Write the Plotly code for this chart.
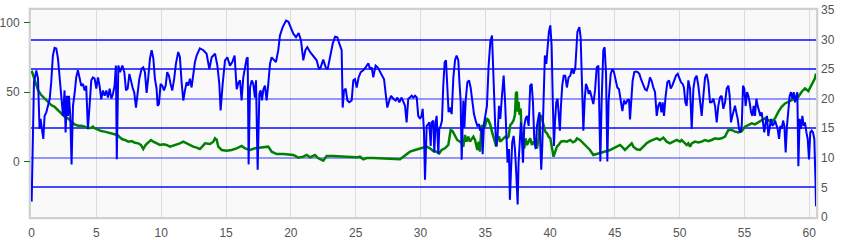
import plotly.graph_objects as go

# ---- data -------------------------------------------------------------
blue_x = [0.0, 0.18, 0.36, 0.49, 0.61, 0.69, 0.79, 0.9, 1.0, 1.13, 1.26, 1.39, 1.51, 1.64, 1.77, 1.9,
          2.03, 2.16, 2.29, 2.42, 2.54, 2.62, 2.72, 2.8, 2.88, 2.98, 3.08, 3.19, 3.31, 3.44, 3.57, 3.7,
          3.83, 3.96, 4.09, 4.21, 4.34, 4.47, 4.6, 4.73, 4.86, 4.99, 5.12, 5.24, 5.37, 5.5, 5.63, 5.76,
          5.89, 6.02, 6.15, 6.27, 6.4,
          6.5, 6.57, 6.69, 6.82, 7.0, 7.15, 7.28, 7.41, 7.54, 7.66, 7.79, 7.92, 8.05, 8.18, 8.31, 8.49,
          8.61, 8.74, 8.87, 9.0, 9.13, 9.26, 9.39, 9.51, 9.64, 9.72, 9.82, 9.95, 10.08, 10.21, 10.34,
          10.46, 10.59, 10.72, 10.85, 11.0, 11.13, 11.31, 11.44, 11.57, 11.7, 11.83, 11.96, 12.08, 12.21,
          12.34, 12.47, 12.6, 12.73, 12.98,
          13.25, 13.5, 13.71, 13.89, 14.15, 14.33, 14.48, 14.58, 14.74, 14.92, 15.1, 15.3, 15.48, 15.66,
          15.82, 15.97, 16.08, 16.2, 16.33, 16.46, 16.59, 16.67, 16.74, 16.85, 16.98, 17.1, 17.23, 17.31,
          17.44, 17.57, 17.67, 17.77, 17.88, 18.0, 18.13, 18.26, 18.39, 18.52, 18.7, 18.85, 19.03, 19.16,
          19.37, 19.63, 19.81, 19.99, 20.19, 20.4, 20.6, 20.78, 20.96, 21.12, 21.27, 21.48, 21.73, 21.99,
          22.17, 22.3, 22.5, 22.69, 22.84, 23.02, 23.23, 23.41, 23.59, 23.74, 23.92, 24.0, 24.1, 24.23,
          24.36, 24.51, 24.69, 24.82, 24.95, 25.08, 25.23, 25.39, 25.59, 25.77, 25.98, 26.11, 26.24,
          26.36, 26.54, 26.7, 26.88, 27.01, 27.19, 27.32, 27.44, 27.6, 27.73, 27.91, 28.09, 28.22, 28.37,
          28.55, 28.68, 28.81, 28.93, 29.06, 29.19, 29.32, 29.45, 29.58, 29.71, 29.83, 29.96, 30.09,
          30.17, 30.27, 30.35, 30.48, 30.6, 30.68, 30.79, 30.86, 30.99, 31.07, 31.17, 31.25, 31.38,
          31.45, 31.56, 31.66, 31.76, 31.87, 31.97, 32.07, 32.17,
          32.28, 32.41, 32.54, 32.67, 32.79, 32.92, 33.0, 33.1, 33.18, 33.31, 33.39, 33.49, 33.62, 33.75,
          33.87, 34.0, 34.13, 34.26, 34.39, 34.52, 34.6, 34.72, 34.8, 34.9, 35.03,
          35.13, 35.26, 35.39, 35.52, 35.59, 35.7, 35.77, 35.85, 35.95, 36.06, 36.16, 36.29, 36.42,
          36.52, 36.62, 36.72, 36.83, 36.9, 36.98, 37.08, 37.19, 37.29, 37.39, 37.5, 37.57, 37.65,
          37.75, 37.83, 37.91, 38.01, 38.11, 38.22, 38.35, 38.47, 38.58, 38.68, 38.78, 38.89, 38.99,
          39.12, 39.19, 39.25, 39.32, 39.4, 39.5, 39.6, 39.71, 39.81, 39.91, 40.02, 40.12, 40.22, 40.3,
          40.38, 40.48, 40.58, 40.69, 40.76, 40.84, 40.94, 41.05, 41.17, 41.3, 41.43, 41.56, 41.69,
          41.82, 41.95,
          42.11, 42.26, 42.36, 42.47, 42.57, 42.67, 42.77, 42.88, 42.98, 43.08, 43.21, 43.34, 43.47,
          43.6, 43.73, 43.8, 43.88, 43.98, 44.11, 44.21, 44.32, 44.42, 44.52, 44.68, 44.81, 44.93,
          45.06, 45.19, 45.32, 45.45, 45.58, 45.71, 45.83, 45.96, 46.09, 46.17, 46.27, 46.37, 46.5,
          46.63, 46.76, 46.89, 47.02, 47.15, 47.33, 47.46,
          47.58, 47.71, 47.84, 47.97, 48.1, 48.23, 48.35, 48.48, 48.59, 48.69, 48.79, 48.92, 49.05,
          49.18, 49.31, 49.43, 49.56, 49.72, 49.85, 49.97, 50.1, 50.23, 50.33, 50.44, 50.54, 50.67,
          50.8, 50.93, 51.06, 51.18, 51.31, 51.44, 51.57, 51.7, 51.83, 51.96, 52.08, 52.21, 52.34,
          52.47, 52.6, 52.73, 52.86, 52.98, 53.11, 53.24, 53.37, 53.5, 53.63, 53.76,
          53.86, 53.96, 54.07, 54.17, 54.27, 54.37, 54.48, 54.58, 54.68, 54.79, 54.89, 54.99, 55.09,
          55.2, 55.3, 55.4, 55.51, 55.61, 55.71, 55.81, 55.92, 56.02, 56.12, 56.23, 56.33, 56.43,
          56.53, 56.64, 56.74, 56.84, 56.95, 57.05, 57.15, 57.26, 57.36, 57.46, 57.56, 57.67, 57.77,
          57.87, 57.98, 58.08, 58.18, 58.28, 58.39, 58.49, 58.59, 58.7, 58.8, 58.9, 59.0, 59.08, 59.16,
          59.26, 59.36, 59.47, 59.57, 59.67, 59.78, 59.88, 59.98, 60.08, 60.19, 60.29, 60.39, 60.44,
          60.48, 60.52]
blue_y = [2.6, 22.8, 24.8, 23.4, 14.9, 16.6, 14.9, 13.2, 17.1, 17.7, 18.8, 19.9, 22.8, 27.3, 28.6, 28.5,
          26.8, 23.9, 19.9, 17.1, 21.4, 14.3, 20.5, 17.1, 20.5, 17.1, 8.9, 18.8, 20.8, 23.6, 24.8, 23.6,
          22.2, 22.5, 21.4, 22.2, 14.9, 18.8, 23.1, 23.6, 23.4, 21.7, 23.6, 22.2, 19.9, 21.4, 20.5, 21.4,
          20.2, 21.7, 20.0, 20.8, 22.2,
          25.6, 9.75, 25.6, 24.5, 25.6, 24.5, 21.4, 21.7, 24.2, 22.8, 21.9, 21.0, 18.5, 21.0, 23.4, 25.1,
          25.3, 24.5, 21.0, 23.6, 26.8, 28.2, 26.8, 23.4, 21.7, 18.8, 19.1, 22.5, 22.2, 21.4, 22.2,
          24.5, 23.9, 22.5, 21.4, 23.4, 25.9, 27.9, 27.0, 22.8, 19.7, 21.4, 22.8, 22.2, 23.4,
          21.9, 24.5, 26.2, 27.3, 28.5,
          28.2, 27.6, 25.0, 27.0, 27.6, 25.6, 22.5, 18.0, 22.5, 26.5, 27.0, 25.6, 26.2, 27.3,
          21.6, 22.8, 23.1, 19.7, 23.6, 25.3, 26.8, 27.0, 8.9, 21.9, 23.1, 22.5, 20.2, 23.1,
          8.0, 20.8, 21.4, 19.7, 21.6, 22.2, 19.7, 22.5, 25.9, 27.0, 26.5, 26.2, 28.2, 30.7,
          32.1, 33.2, 33.0, 32.1, 31.0, 30.4, 31.1, 29.9, 26.5, 28.2, 28.7, 27.9, 27.3, 26.5,
          25.0, 25.3, 26.6, 25.3, 25.0, 26.9, 29.3, 30.5, 30.4, 29.3, 28.2, 18.5, 21.4, 21.7,
          19.7, 19.4, 19.7, 23.1, 23.3, 21.9, 23.6, 24.5, 24.8, 25.3, 26.0, 25.0, 25.3,
          23.6, 25.6, 25.3, 24.5, 23.9, 23.3, 20.8, 18.5, 19.7, 20.5, 20.0, 19.7, 20.2, 19.4,
          20.2, 19.4, 18.8, 16.0, 20.0, 20.2, 20.5, 20.2, 20.5, 20.2, 17.1, 16.6, 17.1,
          18.3, 14.6, 6.3, 15.4, 15.7, 16.0, 12.0, 16.0, 16.3, 10.9, 16.0, 17.1, 10.6,
          14.9, 15.4, 16.3, 22.2, 26.2, 26.5, 20.5, 17.7,
          18.5, 17.4, 23.6, 26.5, 27.3, 26.5, 23.1, 19.7, 9.7, 19.7, 15.1, 19.7, 22.8, 23.1,
          21.9, 19.7, 17.4, 16.3, 15.4, 15.7, 14.6, 15.1, 10.6, 15.7, 17.4,
          18.8, 25.6, 29.6, 30.7, 25.6, 18.8, 15.4, 12.0, 13.7, 18.8, 16.6, 20.5, 23.9,
          20.0, 13.7, 9.2, 11.5, 2.9, 7.5, 12.6, 13.7, 11.5, 7.5, 2.1, 9.2, 12.0,
          16.0, 13.2, 9.2, 15.4, 16.6, 17.1, 15.4, 22.2, 22.5, 19.4, 13.2, 11.5, 15.4,
          17.1, 17.7, 12.0, 8.0, 12.0, 18.8, 27.3, 25.9, 28.5, 31.3, 32.4, 29.0, 18.8, 12.0,
          16.0, 19.4, 20.0, 16.0, 14.6, 18.8, 22.2, 23.9, 23.9, 21.9, 23.6, 23.9, 25.1,
          24.2, 25.3,
          31.3, 32.1, 30.4, 20.8, 14.6, 19.7, 22.5, 21.9, 20.8, 21.4, 20.2, 19.1, 21.4,
          25.3, 25.6, 19.7, 9.4, 19.7, 28.2, 28.7, 24.2, 9.4, 19.7, 24.2, 25.0, 24.5,
          23.0, 21.9, 21.6, 19.7, 17.9, 19.7, 19.1, 19.7, 19.9, 16.5, 20.2, 23.0, 24.5,
          24.6, 24.5, 24.2, 23.3, 22.5, 21.6, 21.4,
          22.2, 23.6, 23.0, 21.9, 21.1, 17.1, 18.8, 19.4, 17.7, 19.4, 17.1, 20.5, 22.8,
          23.1, 21.7, 22.2, 23.1, 23.9, 24.2, 23.6, 22.8, 22.5, 21.9, 19.4, 18.8, 23.1,
          21.7, 14.9, 21.7, 23.4, 23.9, 22.2, 19.4, 17.1, 20.5, 23.6, 24.2, 22.8, 19.4,
          19.4, 20.0, 18.8, 16.0, 18.8, 20.2, 20.5, 18.3, 19.4, 21.7, 22.2,
          20.5, 16.0, 17.1, 18.3, 18.8, 17.7, 16.6, 14.9, 14.3, 15.4, 22.2, 21.7, 18.8,
          21.1, 20.5, 19.4, 17.7, 17.1, 18.8, 17.1, 20.0, 18.8, 17.7, 17.1, 17.7, 16.0,
          14.3, 16.0, 17.1, 13.7, 14.9, 16.6, 15.4, 15.7, 16.3, 15.4, 14.9, 13.2, 15.4,
          14.9, 16.3, 15.4, 10.9, 15.4, 18.8, 20.5, 21.1, 20.0, 21.1, 19.4, 20.5, 21.1, 8.6,
          16.6, 14.9, 17.1, 15.4, 16.0, 14.3, 13.2, 9.75, 14.3, 14.6, 14.3, 13.2, 10.3,
          6.3, 1.8]

green_x = [0.0, 0.23, 0.49, 0.74, 1.0, 1.26, 1.51, 1.77, 2.03, 2.29, 2.54, 2.8, 3.06, 3.31, 3.57, 3.83,
           4.09, 4.34, 4.6, 4.73, 4.86, 5.12, 5.37, 5.63, 5.89, 6.15, 6.4, 6.61, 6.8, 7.0, 7.2, 7.46,
           7.72, 7.97, 8.23, 8.43, 8.61, 8.79, 9.0, 9.21, 9.39, 9.64, 9.9, 10.16, 10.41, 10.67, 10.93,
           11.18, 11.44, 11.7, 11.96, 12.21, 12.47, 12.73, 12.98, 13.16, 13.38, 13.76, 14.02, 14.15,
           14.28, 14.4, 14.66, 15.05, 15.43, 15.82, 16.2, 16.46, 16.85, 17.23, 17.62, 18.0, 18.26,
           18.52, 18.91, 19.42, 19.81, 20.19, 20.58, 20.96, 21.22, 21.48, 21.86, 22.12, 22.5, 22.76,
           23.28, 23.79, 24.3, 25.08, 25.33, 25.59, 25.85, 26.36, 26.88, 27.39, 27.91, 28.42, 28.68,
           28.93, 29.19, 29.58, 29.96, 30.22, 30.48, 30.73, 30.99, 31.25, 31.45, 31.63, 31.89, 32.15,
           32.33, 32.48, 32.66, 32.84, 33.05, 33.18, 33.31, 33.43, 33.56, 33.69, 33.82, 33.95, 34.08,
           34.21, 34.28, 34.39, 34.49, 34.59, 34.72, 34.85, 34.98, 35.11, 35.24, 35.39, 35.52, 35.64,
           35.77, 35.85, 35.95, 36.06, 36.16, 36.29, 36.42, 36.54, 36.67, 36.8, 36.93, 37.06, 37.19,
           37.29, 37.37, 37.44, 37.5, 37.57, 37.65, 37.73, 37.8, 37.91, 38.01, 38.11, 38.22, 38.35,
           38.47, 38.6, 38.73, 38.86, 38.99, 39.12, 39.19, 39.3, 39.4, 39.5, 39.63, 39.76, 39.89,
           40.02, 40.15, 40.27, 40.4, 40.53, 40.66, 40.84, 41.05, 41.3, 41.56, 41.77, 41.95, 42.07,
           42.31, 42.57, 42.83, 43.08, 43.34, 43.6, 43.85, 44.11, 44.37, 44.63, 44.88, 45.14, 45.4,
           45.6, 45.78, 46.04, 46.3, 46.43, 46.68, 46.94, 47.2, 47.45, 47.71, 47.97, 48.23, 48.48,
           48.74, 49.0, 49.25, 49.51, 49.77, 50.03, 50.15, 50.28, 50.54, 50.67, 50.8, 50.93, 51.18,
           51.44, 51.7, 51.96, 52.21, 52.47, 52.73, 52.98, 53.24, 53.5, 53.76, 54.01, 54.27, 54.53,
           54.79, 55.04, 55.3, 55.56, 55.81, 56.07, 56.33, 56.59, 56.72, 56.84, 57.1, 57.36, 57.62,
           57.87, 58.13, 58.39, 58.64, 58.9, 59.16, 59.42, 59.67, 59.93, 60.19, 60.44, 60.52]
green_y = [65.3, 58.6, 51.4, 47.8, 45.4, 43.0, 40.6, 39.4, 37.1, 34.7, 32.3, 31.1, 28.7, 26.7, 25.8, 25.8,
           25.1, 23.9, 24.3, 25.1, 23.9, 22.7, 21.9, 21.5, 21.0, 20.3, 19.5, 19.1, 17.5, 16.0, 15.5, 14.3,
           14.7, 13.5, 13.1, 11.9, 9.0, 11.9, 13.8, 15.5, 14.3, 13.1, 11.9, 12.4, 11.9, 10.7, 11.4,
           12.4, 13.1, 14.3, 13.1, 11.4, 10.7, 10.0, 9.0, 10.7, 13.1, 12.6, 14.3, 16.7,
           15.5, 10.7, 8.3, 7.8, 8.3, 9.5, 11.2, 9.5, 8.3, 9.5, 10.0, 10.7, 10.7,
           7.1, 5.4, 5.4, 5.2, 4.7, 2.8, 3.5, 4.7, 3.0, 4.7, 2.3, 0.6, 4.0,
           4.0, 3.5, 3.5, 3.0, 3.5, 1.6, 2.5, 2.5, 2.3, 2.0, 2.0, 1.6, 3.5,
           5.2, 7.1, 8.3, 9.5, 10.0, 10.7, 9.5, 7.6, 7.1, 5.9, 8.3, 9.5, 11.9,
           22.7, 21.9, 19.1, 15.5, 14.3, 13.1, 10.7, 19.1, 14.3, 17.9, 14.3, 16.7, 17.9,
           15.5, 11.9, 8.3, 14.3, 7.1, 26.3, 23.9, 25.1, 31.1, 29.9, 26.3, 21.5, 17.9,
           14.3, 10.7, 16.7, 17.9, 14.3, 15.5, 16.7, 17.9, 16.7, 17.9, 26.3, 27.5, 29.9,
           33.5, 49.1, 50.2, 35.9, 43.0, 33.5, 38.2, 21.5, 11.9, 9.5, 16.7, 11.9, 14.3,
           16.7, 11.9, 14.3, 11.9, 9.5, 16.7, 31.1, 33.5, 29.9, 26.3, 21.5, 20.3, 17.9,
           16.7, 10.7, 3.5, 7.1, 10.7, 11.9, 14.3, 14.7, 14.3, 15.5, 13.8, 14.7, 16.7,
           15.5, 13.1, 10.7, 8.3, 4.7, 5.4, 5.9, 6.4, 7.1, 8.3, 9.5, 10.7, 11.9,
           10.2, 8.3, 10.7, 13.1, 10.7, 8.8, 8.3, 10.7, 13.1, 14.7, 15.5, 16.7, 15.5,
           17.1, 14.3, 13.1, 14.3, 15.5, 14.3, 15.5, 14.3, 11.9, 13.1, 10.7, 13.1, 14.3,
           13.8, 14.3, 15.5, 14.7, 15.5, 16.7, 16.2, 16.7, 17.9, 22.7, 22.7, 21.5, 21.0,
           21.9, 25.1, 26.3, 27.5, 26.7, 28.2, 29.9, 31.1, 28.7, 29.9, 28.7, 31.1, 35.9,
           39.4, 41.8, 43.0, 44.2, 45.4, 46.6, 50.2, 52.6, 50.7, 55.0, 59.8, 63.4]

x_ticks = [0, 5, 10, 15, 20, 25, 30, 35, 40, 45, 50, 55, 60]
left_ticks = [0, 50, 100]
right_ticks = [0, 5, 10, 15, 20, 25, 30, 35]
grid_dark = [5, 15, 25, 30]
grid_light = [10, 20]

# ---- figure -----------------------------------------------------------
FONT = "Liberation Sans, Arial, Helvetica, sans-serif"
LBL = dict(family=FONT, size=12, color="#545454")

fig = go.Figure()
fig.add_trace(go.Scatter(x=green_x, y=green_y, mode="lines", yaxis="y",
                         line=dict(color="#008000", width=2.5), hoverinfo="skip"))
fig.add_trace(go.Scatter(x=blue_x, y=blue_y, mode="lines", yaxis="y2",
                         line=dict(color="#0000ff", width=2), hoverinfo="skip"))
# invisible helper traces to activate the grid axes
fig.add_trace(go.Scatter(x=[None], y=[None], yaxis="y3", hoverinfo="skip"))
fig.add_trace(go.Scatter(x=[None], y=[None], yaxis="y4", hoverinfo="skip"))

W, H = 846, 240
ML, MR, MT, MB = 31, 30, 10, 23
pw, ph = W - ML - MR, H - MT - MB

fig.update_layout(
    width=W, height=H,
    margin=dict(l=ML, r=MR, t=MT, b=MB, pad=0, autoexpand=False),
    paper_bgcolor="white", plot_bgcolor="#f9f9f9",
    showlegend=False,
    xaxis=dict(range=[-0.05, 60.52], tickvals=x_ticks, showgrid=True, gridcolor="#dcdcdc",
               gridwidth=1, zeroline=False, showline=False, ticks="", tickfont=LBL,
               ticklabelstandoff=7, automargin=False),
    yaxis=dict(range=[-39.9, 109.0], tickvals=left_ticks, showgrid=False, zeroline=False,
               showline=False, ticks="outside", ticklen=6, tickwidth=1, tickcolor="#008000",
               tickfont=LBL, ticklabelstandoff=2, automargin=False),
    yaxis2=dict(range=[0, 35], tickvals=right_ticks, overlaying="y", side="right",
                showgrid=False, zeroline=False, showline=False, ticks="", tickfont=LBL,
                ticklabelstandoff=4, automargin=False),
    yaxis3=dict(range=[0, 35], tickvals=grid_dark, overlaying="y", side="right",
                showgrid=True, gridcolor="rgba(25,25,255,0.8)", gridwidth=2, showticklabels=False,
                zeroline=False, showline=False, ticks="", automargin=False),
    yaxis4=dict(range=[0, 35], tickvals=grid_light, overlaying="y", side="right",
                showgrid=True, gridcolor="rgba(80,80,255,0.6)", gridwidth=2,
                showticklabels=False, zeroline=False, showline=False, ticks="",
                automargin=False),
)

ox, oy = 1.2 / pw, 1.2 / ph
fig.add_shape(type="rect", xref="paper", yref="paper", x0=-ox, x1=1 + ox, y0=-oy, y1=1 + oy,
              line=dict(color="#cfcfcf", width=2.2), fillcolor="rgba(0,0,0,0)", layer="below")

fig.write_html("out.html")
